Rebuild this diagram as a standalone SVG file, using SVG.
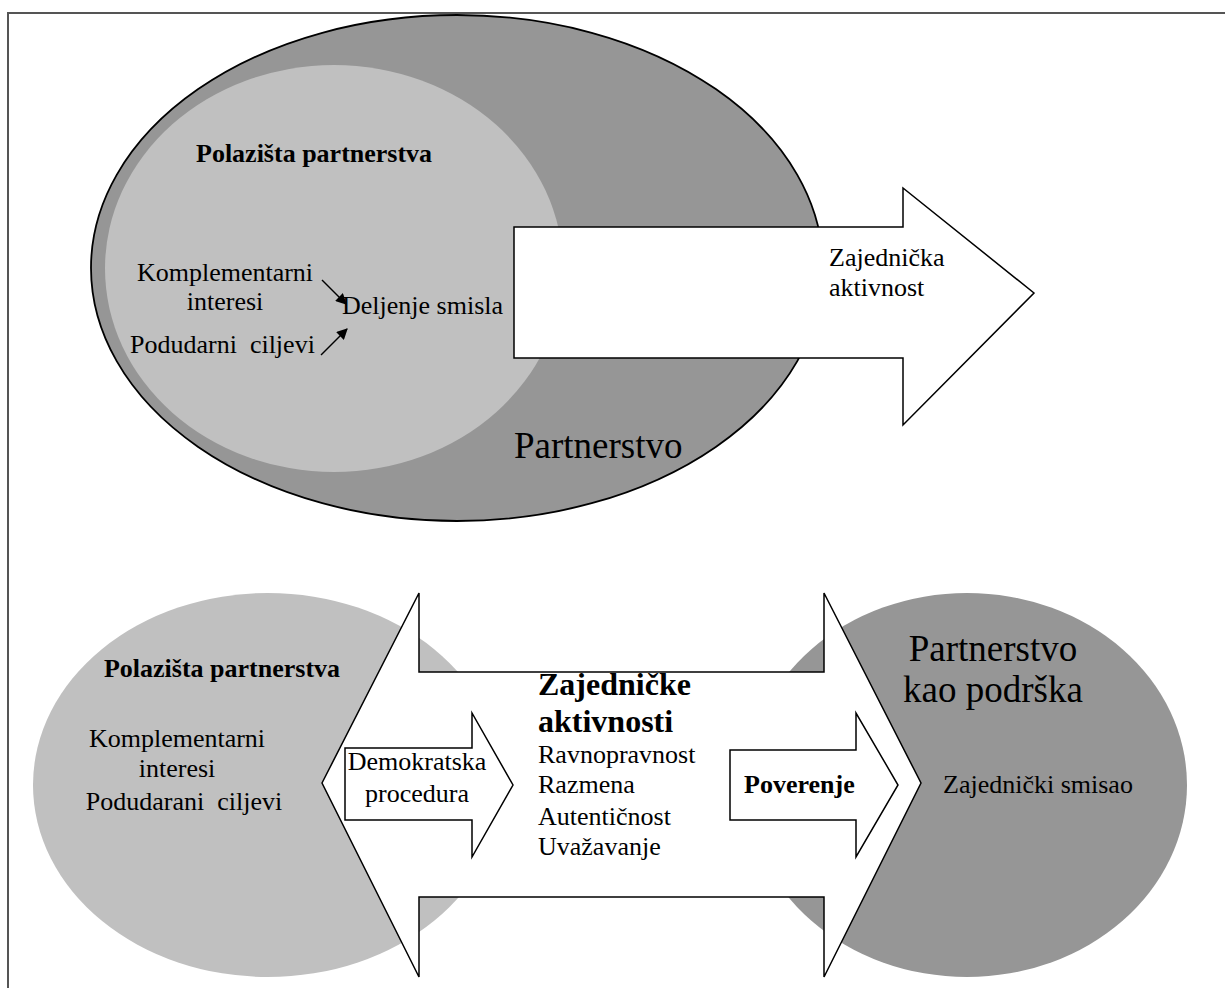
<svg xmlns="http://www.w3.org/2000/svg" width="1225" height="988" viewBox="0 0 1225 988">
<defs>
<style>
.t{font-family:"Liberation Serif","Times New Roman",serif;font-size:26px;fill:#000}
.b{font-weight:bold}
.big{font-size:37px}
.hdr{font-size:32px;font-weight:bold}
.shape{fill:#fff;stroke:#000;stroke-width:1.5}
.con{stroke:#000;stroke-width:1.5;fill:none}
</style>
<marker id="ah" viewBox="0 0 10 10" refX="9" refY="5" markerWidth="13" markerHeight="11" markerUnits="userSpaceOnUse" orient="auto">
<path d="M0,0 L10,5 L0,10 z" fill="#000"/>
</marker>
</defs>
<rect width="1225" height="988" fill="#fff"/>
<g id="frame">
<path d="M8,988 L8,13 L1225,13" fill="none" stroke="#555" stroke-width="2"/>
</g>
<g id="partnerstvo-top">
<ellipse cx="457" cy="268" rx="366" ry="253" fill="#969696" stroke="#000" stroke-width="1.8"/>
<text class="t big" x="514" y="458">Partnerstvo</text>
</g>
<g id="polazista-top">
<ellipse cx="334" cy="268.5" rx="229" ry="203.5" fill="#c0c0c0"/>
<text class="t b" x="196" y="162">Polazišta partnerstva</text>
<text class="t" x="225" y="281" text-anchor="middle">Komplementarni</text>
<text class="t" x="225" y="310" text-anchor="middle">interesi</text>
<text class="t" x="130" y="353" xml:space="preserve">Podudarni  ciljevi</text>
<text class="t" x="342" y="314">Deljenje smisla</text>
</g>
<g id="zajednicka-aktivnost">
<polygon class="shape" points="514,227 903,227 903,188 1034,293 903,425 903,358 514,358"/>
<text class="t" x="829" y="266">Zajednička</text>
<text class="t" x="829" y="296">aktivnost</text>
</g>
<g id="polazista-bottom">
<ellipse cx="268" cy="785" rx="235" ry="192" fill="#c0c0c0"/>
</g>
<g id="partnerstvo-podrska">
<ellipse cx="967" cy="785" rx="220" ry="192" fill="#969696"/>
</g>
<g id="zajednicke-aktivnosti">
<polygon class="shape" points="322,783 419,593 419,672 824,672 824,593 921,783 824,977 824,897 419,897 419,977"/>
</g>
<g id="polazista-bottom-text">
<text class="t b" x="222" y="677" text-anchor="middle">Polazišta partnerstva</text>
<text class="t" x="177" y="747" text-anchor="middle">Komplementarni</text>
<text class="t" x="177" y="777" text-anchor="middle">interesi</text>
<text class="t" x="184" y="810" text-anchor="middle" xml:space="preserve">Podudarani  ciljevi</text>
</g>
<g id="demokratska-procedura">
<polygon class="shape" points="345,748 472,748 472,713 513,785 472,857 472,820 345,820"/>
<text class="t" x="417" y="770" text-anchor="middle">Demokratska</text>
<text class="t" x="417" y="802" text-anchor="middle">procedura</text>
</g>
<g id="zajednicke-aktivnosti-text">
<text class="t hdr" x="538" y="695">Zajedničke</text>
<text class="t hdr" x="538" y="732">aktivnosti</text>
<text class="t" x="538" y="763">Ravnopravnost</text>
<text class="t" x="538" y="793">Razmena</text>
<text class="t" x="538" y="825">Autentičnost</text>
<text class="t" x="538" y="855">Uvažavanje</text>
</g>
<g id="poverenje">
<polygon class="shape" points="730,750 856,750 856,713 898,785 856,857 856,820 730,820"/>
<text class="t b" x="744" y="793">Poverenje</text>
</g>
<g id="partnerstvo-podrska-text">
<text class="t big" x="993" y="661" text-anchor="middle">Partnerstvo</text>
<text class="t big" x="993" y="702" text-anchor="middle">kao podrška</text>
<text class="t" x="943" y="793">Zajednički smisao</text>
</g>
<g id="connectors">
<line class="con" x1="322" y1="280" x2="346" y2="304" marker-end="url(#ah)"/>
<line class="con" x1="321" y1="355" x2="347" y2="329" marker-end="url(#ah)"/>
</g>
</svg>
